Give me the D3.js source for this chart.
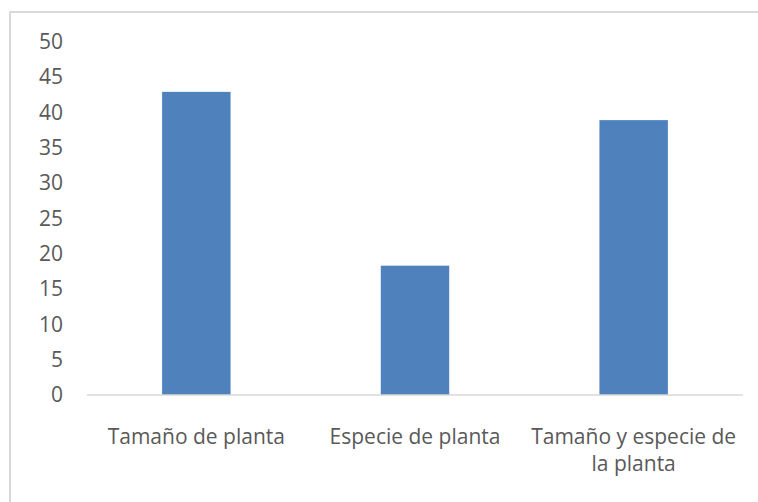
<!DOCTYPE html>
<html>
<head>
<meta charset="utf-8">
<script src="https://cdn.jsdelivr.net/npm/d3@7/dist/d3.min.js"></script>
<style>
  html, body { margin: 0; padding: 0; background: #fff; }
  svg { display: block; }
  text { font-family: "Open Sans", "Noto Sans", sans-serif; fill: #595959; }
</style>
</head>
<body>
<svg id="chart" width="758" height="502"></svg>
<script>
// Chart data
const categories = ["Tamaño de planta", "Especie de planta", "Tamaño y especie de la planta"];
const values = [42.9, 18.3, 38.9];
const yTicks = [0, 5, 10, 15, 20, 25, 30, 35, 40, 45, 50];

const W = 758, H = 502;
const plot = { left: 87, right: 743, top: 41.7, bottom: 395 };
const fontSize = 21;

const svg = d3.select("#chart");

// Chart frame (only top and left edges fall inside the canvas)
svg.append("rect")
  .attr("x", 10).attr("y", 12)
  .attr("width", W + 20).attr("height", H + 20)
  .attr("fill", "#fff")
  .attr("stroke", "#D9D9D9")
  .attr("stroke-width", 2);

const x = d3.scaleBand()
  .domain(categories)
  .range([plot.left, plot.right])
  .padding(0);

const y = d3.scaleLinear()
  .domain([0, 50])
  .range([plot.bottom, plot.top]);

const barW = x.bandwidth() * 0.313;

// Bars
svg.append("g").selectAll("rect")
  .data(categories.map((c, i) => ({ c, v: values[i] })))
  .join("rect")
  .attr("x", d => x(d.c) + (x.bandwidth() - barW) / 2)
  .attr("y", d => y(d.v))
  .attr("width", barW)
  .attr("height", d => y(0) - y(d.v))
  .attr("fill", "#4F81BD");

// Y axis (labels only)
const yAxis = svg.append("g")
  .attr("transform", `translate(${plot.left},0)`)
  .call(d3.axisLeft(y).tickValues(yTicks).tickSize(0).tickPadding(24).tickFormat(d3.format("d")));
yAxis.select(".domain").remove();
yAxis.selectAll("text")
  .style("font-size", fontSize + "px")
  .style("font-family", "\"Open Sans\", \"Noto Sans\", sans-serif")
  .attr("fill", "#595959");

// X axis baseline
svg.append("line")
  .attr("x1", plot.left).attr("x2", plot.right)
  .attr("y1", y(0)).attr("y2", y(0))
  .attr("stroke", "#D9D9D9")
  .attr("stroke-width", 1.5);

// Category labels, wrapped to the band width
const xLabels = svg.append("g");
categories.forEach(cat => {
  const cx = x(cat) + x.bandwidth() / 2;
  const t = xLabels.append("text")
    .attr("x", cx)
    .attr("y", 444)
    .attr("text-anchor", "middle")
    .style("font-size", fontSize + "px");
  const words = cat.split(" ");
  let line = [];
  let tspan = t.append("tspan").attr("x", cx).attr("dy", 0);
  words.forEach(w => {
    line.push(w);
    tspan.text(line.join(" "));
    if (tspan.node().getComputedTextLength() > x.bandwidth() - 4 && line.length > 1) {
      line.pop();
      tspan.text(line.join(" "));
      line = [w];
      tspan = t.append("tspan")
        .attr("x", cx)
        .attr("dy", 27)
        .text(w);
    }
  });
});
</script>
</body>
</html>
